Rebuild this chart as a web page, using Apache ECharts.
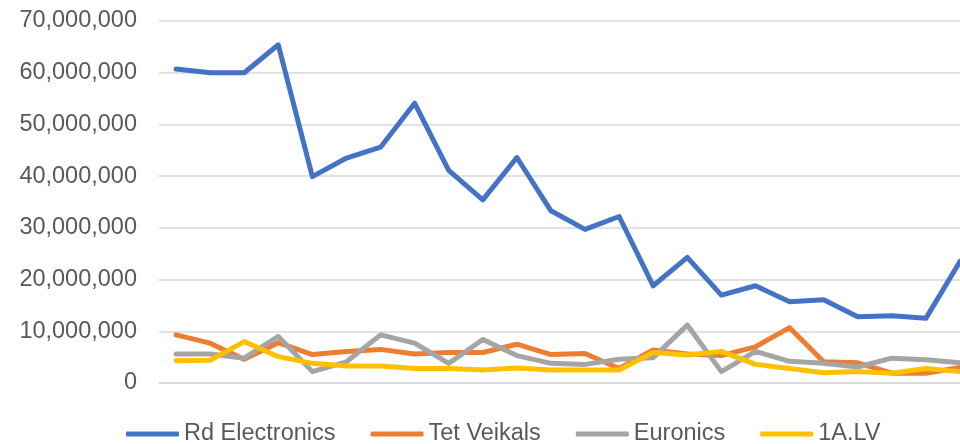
<!DOCTYPE html>
<html>
<head>
<meta charset="utf-8">
<script src="https://cdn.jsdelivr.net/npm/echarts@6/dist/echarts.min.js"></script>
<style>
  html, body { margin: 0; padding: 0; background: #fff; overflow: hidden; }
  /* the original chart is cropped on the right, so the canvas runs past the window */
  #main { width: 977px; height: 444px; }
</style>
</head>
<body>
<div id="main"></div>
<script>
// values (24 periods, no x labels shown)
var periods = ['1','2','3','4','5','6','7','8','9','10','11','12','13','14','15','16','17','18','19','20','21','22','23','24'];
var yTicks = [0, 10000000, 20000000, 30000000, 40000000, 50000000, 60000000, 70000000];

var rdElectronics = [60700000, 60000000, 60000000, 65400000, 39900000, 43500000, 45600000, 54100000, 41100000, 35400000, 43600000, 33300000,
                     29700000, 32200000, 18800000, 24300000, 17000000, 18800000, 15700000, 16100000, 12800000, 13000000, 12500000, 23500000];
var tetVeikals = [9300000, 7700000, 4600000, 7800000, 5500000, 6100000, 6500000, 5600000, 5900000, 5900000, 7500000, 5500000,
                  5700000, 2800000, 6400000, 5600000, 5300000, 7000000, 10700000, 4100000, 3900000, 1900000, 1900000, 3000000];
var euronics = [5600000, 5600000, 4800000, 9000000, 2200000, 4100000, 9300000, 7700000, 3800000, 8400000, 5300000, 3800000,
                3600000, 4600000, 4900000, 11200000, 2200000, 6100000, 4200000, 3800000, 3100000, 4800000, 4500000, 3900000];
var oneALV = [4300000, 4400000, 8000000, 5100000, 3800000, 3300000, 3300000, 2800000, 2800000, 2500000, 2900000, 2500000,
              2500000, 2500000, 5900000, 5400000, 6100000, 3600000, 2800000, 2000000, 2200000, 1900000, 2800000, 2200000];

var seriesNames = ['Rd Electronics', 'Tet Veikals', 'Euronics', '1A.LV'];
var seriesColors = ['#4472C4', '#ED7D31', '#A5A5A5', '#FFC000'];
var seriesData = [rdElectronics, tetVeikals, euronics, oneALV];

var dom = document.getElementById('main');
var myChart = echarts.init(dom);

function fmt(v) {
  return String(v).replace(/\B(?=(\d{3})+(?!\d))/g, ',');
}

var option = {
  backgroundColor: '#ffffff',
  animation: false,
  textStyle: { fontFamily: 'Liberation Sans, Arial, sans-serif' },
  grid: {
    left: 159,
    right: 0,
    top: 21,
    bottom: 61
  },
  legend: {
    left: 121,
    top: 417,
    icon: 'roundRect',
    itemWidth: 53,
    itemHeight: 5,
    itemGap: 35,
    data: seriesNames,
    textStyle: { color: '#595959', fontSize: 23.5 }
  },
  xAxis: {
    type: 'category',
    boundaryGap: true,
    data: periods,
    axisLine: { show: true, lineStyle: { color: '#d9d9d9', width: 1.5 } },
    axisTick: { show: false },
    axisLabel: { show: false }
  },
  yAxis: {
    type: 'value',
    min: yTicks[0],
    max: yTicks[yTicks.length - 1],
    interval: yTicks[1] - yTicks[0],
    axisLine: { show: false },
    axisTick: { show: false },
    axisLabel: {
      color: '#595959',
      fontSize: 23.5,
      margin: 22,
      formatter: function (v) { return fmt(v); }
    },
    splitLine: { lineStyle: { color: '#d9d9d9', width: 1.5 } }
  },
  series: seriesNames.map(function (name, i) {
    return {
      name: name,
      type: 'line',
      data: seriesData[i],
      symbol: 'none',
      color: seriesColors[i],
      lineStyle: { width: 5, color: seriesColors[i], cap: 'round', join: 'round' }
    };
  })
};

if (option && typeof option === 'object') {
  myChart.setOption(option);
}

window.onresize = function () {
  myChart.resize();
};
</script>
</body>
</html>
